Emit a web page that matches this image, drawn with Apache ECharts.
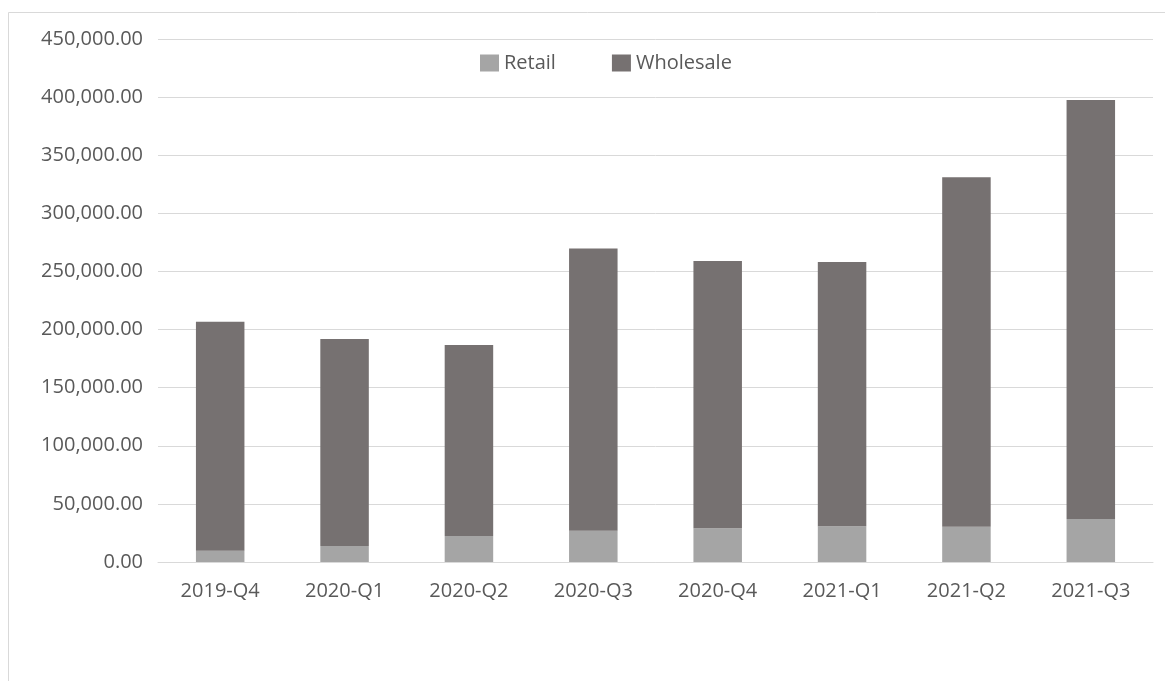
<!DOCTYPE html>
<html>
<head>
<meta charset="utf-8">
<script src="https://cdn.jsdelivr.net/npm/echarts@6/dist/echarts.min.js"></script>
<style>
html,body{margin:0;padding:0;background:#fff;}
#c{width:1165px;height:681px;}
</style>
</head>
<body>
<div id="c"></div>
<script>
const categories = ['2019-Q4','2020-Q1','2020-Q2','2020-Q3','2020-Q4','2021-Q1','2021-Q2','2021-Q3'];
const retail = [9700, 13800, 22400, 26900, 29000, 30700, 30400, 37000];
const wholesale = [197000, 178000, 164300, 242800, 230000, 227500, 300600, 360500];
const yTicks = {min: 0, max: 450000, interval: 50000};

const chart = echarts.init(document.getElementById('c'), null, {renderer: 'canvas'});
const font = '"Open Sans", "Noto Sans", sans-serif';
chart.setOption({
  animation: false,
  backgroundColor: '#fff',
  graphic: [{
    type: 'rect',
    shape: {x: 8.5, y: 12.5, width: 1200, height: 700},
    style: {fill: 'none', stroke: '#d9d9d9', lineWidth: 1},
    silent: true
  }],
  legend: {
    top: 48,
    left: 475,
    itemWidth: 19,
    itemHeight: 17,
    itemGap: 56,
    icon: 'rect',
    textStyle: {color: '#595959', fontSize: 20, fontFamily: font},
    data: ['Retail', 'Wholesale']
  },
  grid: {left: 158, right: 12, top: 39, bottom: 119, containLabel: false},
  xAxis: {
    type: 'category',
    data: categories,
    axisLine: {lineStyle: {color: '#d9d9d9'}},
    axisTick: {show: false},
    axisLabel: {color: '#595959', fontSize: 20, fontFamily: font, margin: 19}
  },
  yAxis: {
    type: 'value',
    min: yTicks.min, max: yTicks.max, interval: yTicks.interval,
    axisLine: {show: false},
    axisTick: {show: false},
    splitLine: {lineStyle: {color: '#d9d9d9'}},
    axisLabel: {
      color: '#595959', fontSize: 20, fontFamily: font, margin: 15,
      formatter: v => v.toLocaleString('en-US', {minimumFractionDigits: 2, maximumFractionDigits: 2})
    }
  },
  series: [
    {name: 'Retail', type: 'bar', stack: 'a', data: retail, barWidth: '39%', itemStyle: {color: '#a5a5a5'}},
    {name: 'Wholesale', type: 'bar', stack: 'a', data: wholesale, barWidth: '39%', itemStyle: {color: '#767171'}}
  ]
});
</script>
</body>
</html>
